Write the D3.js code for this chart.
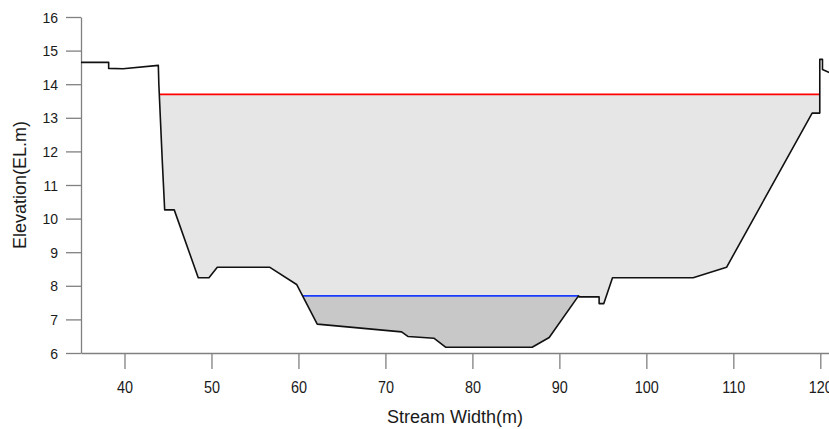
<!DOCTYPE html>
<html>
<head>
<meta charset="utf-8">
<script src="https://cdn.jsdelivr.net/npm/d3@7"></script>
<style>
  html, body { margin: 0; padding: 0; background: #fff; }
  svg { display: block; }
</style>
</head>
<body>
<div id="chart"></div>
<script>
// ---- data ----
const stationX = [35, 38.18, 38.18, 39.83, 43.89, 43.95, 44.34, 44.62, 45.72, 48.48, 49.71, 50.67, 56.72, 59.79, 62.16, 71.86, 72.62, 75.57, 76.95, 86.87, 88.83, 92.2, 92.3, 94.57, 94.57, 95.11, 96.11, 105.38, 109.22, 119.06, 119.94, 119.94, 120.25, 120.25, 121.2];
const elevation = [14.65, 14.65, 14.47, 14.46, 14.56, 14.0, 11.74, 10.26, 10.26, 8.24, 8.24, 8.55, 8.55, 8.04, 6.86, 6.63, 6.49, 6.44, 6.17, 6.17, 6.46, 7.70, 7.67, 7.67, 7.47, 7.47, 8.24, 8.24, 8.55, 13.14, 13.14, 14.74, 14.74, 14.44, 14.33];
const waterLevels = [13.70, 7.70];
const waterColors = ["#ff0000", "#1a3cff"];
const waterFills = ["#e6e6e6", "#c8c8c8"];
const xTicks = [40, 50, 60, 70, 80, 90, 100, 110, 120];
const yTicks = [6, 7, 8, 9, 10, 11, 12, 13, 14, 15, 16];
const xTitle = "Stream Width(m)";
const yTitle = "Elevation(EL.m)";

(function () {
// ---- layout ----
const W = 829, H = 429;
const mLeft = 81, mRight = 829, mTop = 17, mBottom = 353;

const svg = d3.select("#chart").append("svg").attr("width", W).attr("height", H);

const x = d3.scaleLinear().domain([35, 121]).range([mLeft, mRight]);
const y = d3.scaleLinear().domain([6, 16]).range([mBottom, mTop]);

const pts = stationX.map((v, i) => ({ x: v, e: elevation[i] }));
const minIdx = d3.minIndex(pts, d => d.e);

function crossings(level) {
  let i = minIdx, xl = pts[0].x, xr = pts[pts.length - 1].x;
  while (i > 0 && pts[i - 1].e < level) i--;
  if (i > 0) {
    const a = pts[i - 1], b = pts[i];
    xl = a.x + (level - a.e) / (b.e - a.e) * (b.x - a.x);
  }
  let j = minIdx;
  while (j < pts.length - 1 && pts[j + 1].e < level) j++;
  if (j < pts.length - 1) {
    const a = pts[j], b = pts[j + 1];
    xr = a.x + (level - a.e) / (b.e - a.e) * (b.x - a.x);
  }
  return [xl, xr];
}

const defs = svg.append("defs");
const area = d3.area().x(d => x(d.x)).y0(d => y(d.e)).y1(y(16.5));

waterLevels.forEach((lvl, k) => {
  const [xl, xr] = crossings(lvl);
  const cid = "clip" + k;
  defs.append("clipPath").attr("id", cid).append("rect")
    .attr("x", x(xl)).attr("y", y(lvl))
    .attr("width", x(xr) - x(xl)).attr("height", y(6) - y(lvl));
  svg.append("path").datum(pts)
    .attr("d", area)
    .attr("fill", waterFills[k])
    .attr("clip-path", `url(#${cid})`);
  svg.append("line")
    .attr("x1", x(xl)).attr("x2", x(xr))
    .attr("y1", y(lvl)).attr("y2", y(lvl))
    .attr("stroke", waterColors[k]).attr("stroke-width", 1.8);
});

// ---- axes ----
const axisColor = "#808080";
const gx = svg.append("g").attr("transform", `translate(0,${mBottom})`)
  .call(d3.axisBottom(x).tickValues(xTicks).tickSize(16).tickSizeOuter(0).tickFormat(d3.format("d")));
const gy = svg.append("g").attr("transform", `translate(${mLeft},0)`)
  .call(d3.axisLeft(y).tickValues(yTicks).tickSize(15).tickSizeOuter(0).tickFormat(d3.format("d")));

[gx, gy].forEach(g => {
  g.select(".domain").attr("stroke", axisColor).attr("stroke-width", 1.3);
  g.selectAll(".tick line").attr("stroke", axisColor).attr("stroke-width", 1.3);
  g.selectAll(".tick text").attr("fill", "#1a1a1a")
    .attr("font-family", "'Liberation Sans', Arial, sans-serif");
});
gx.selectAll(".tick text").attr("font-size", 16).attr("y", 40).attr("dy", 0)
  .attr("transform", "scale(0.9,1)");
gy.selectAll(".tick text").attr("font-size", 14).attr("x", -23).attr("dy", "0.36em");

// ---- profile line ----
svg.append("path").datum(pts)
  .attr("d", d3.line().x(d => x(d.x)).y(d => y(d.e)))
  .attr("fill", "none").attr("stroke", "#111").attr("stroke-width", 1.6)
  .attr("stroke-linejoin", "round");

// ---- titles ----
svg.append("text").attr("x", (mLeft + mRight) / 2).attr("y", 423)
  .attr("text-anchor", "middle").attr("font-size", 18)
  .attr("font-family", "'Liberation Sans', Arial, sans-serif").attr("fill", "#1a1a1a")
  .text(xTitle);
svg.append("text").attr("transform", `translate(26,${(mTop + mBottom) / 2}) rotate(-90)`)
  .attr("text-anchor", "middle").attr("font-size", 18)
  .attr("font-family", "'Liberation Sans', Arial, sans-serif").attr("fill", "#1a1a1a")
  .text(yTitle);
})();
</script>
</body>
</html>
